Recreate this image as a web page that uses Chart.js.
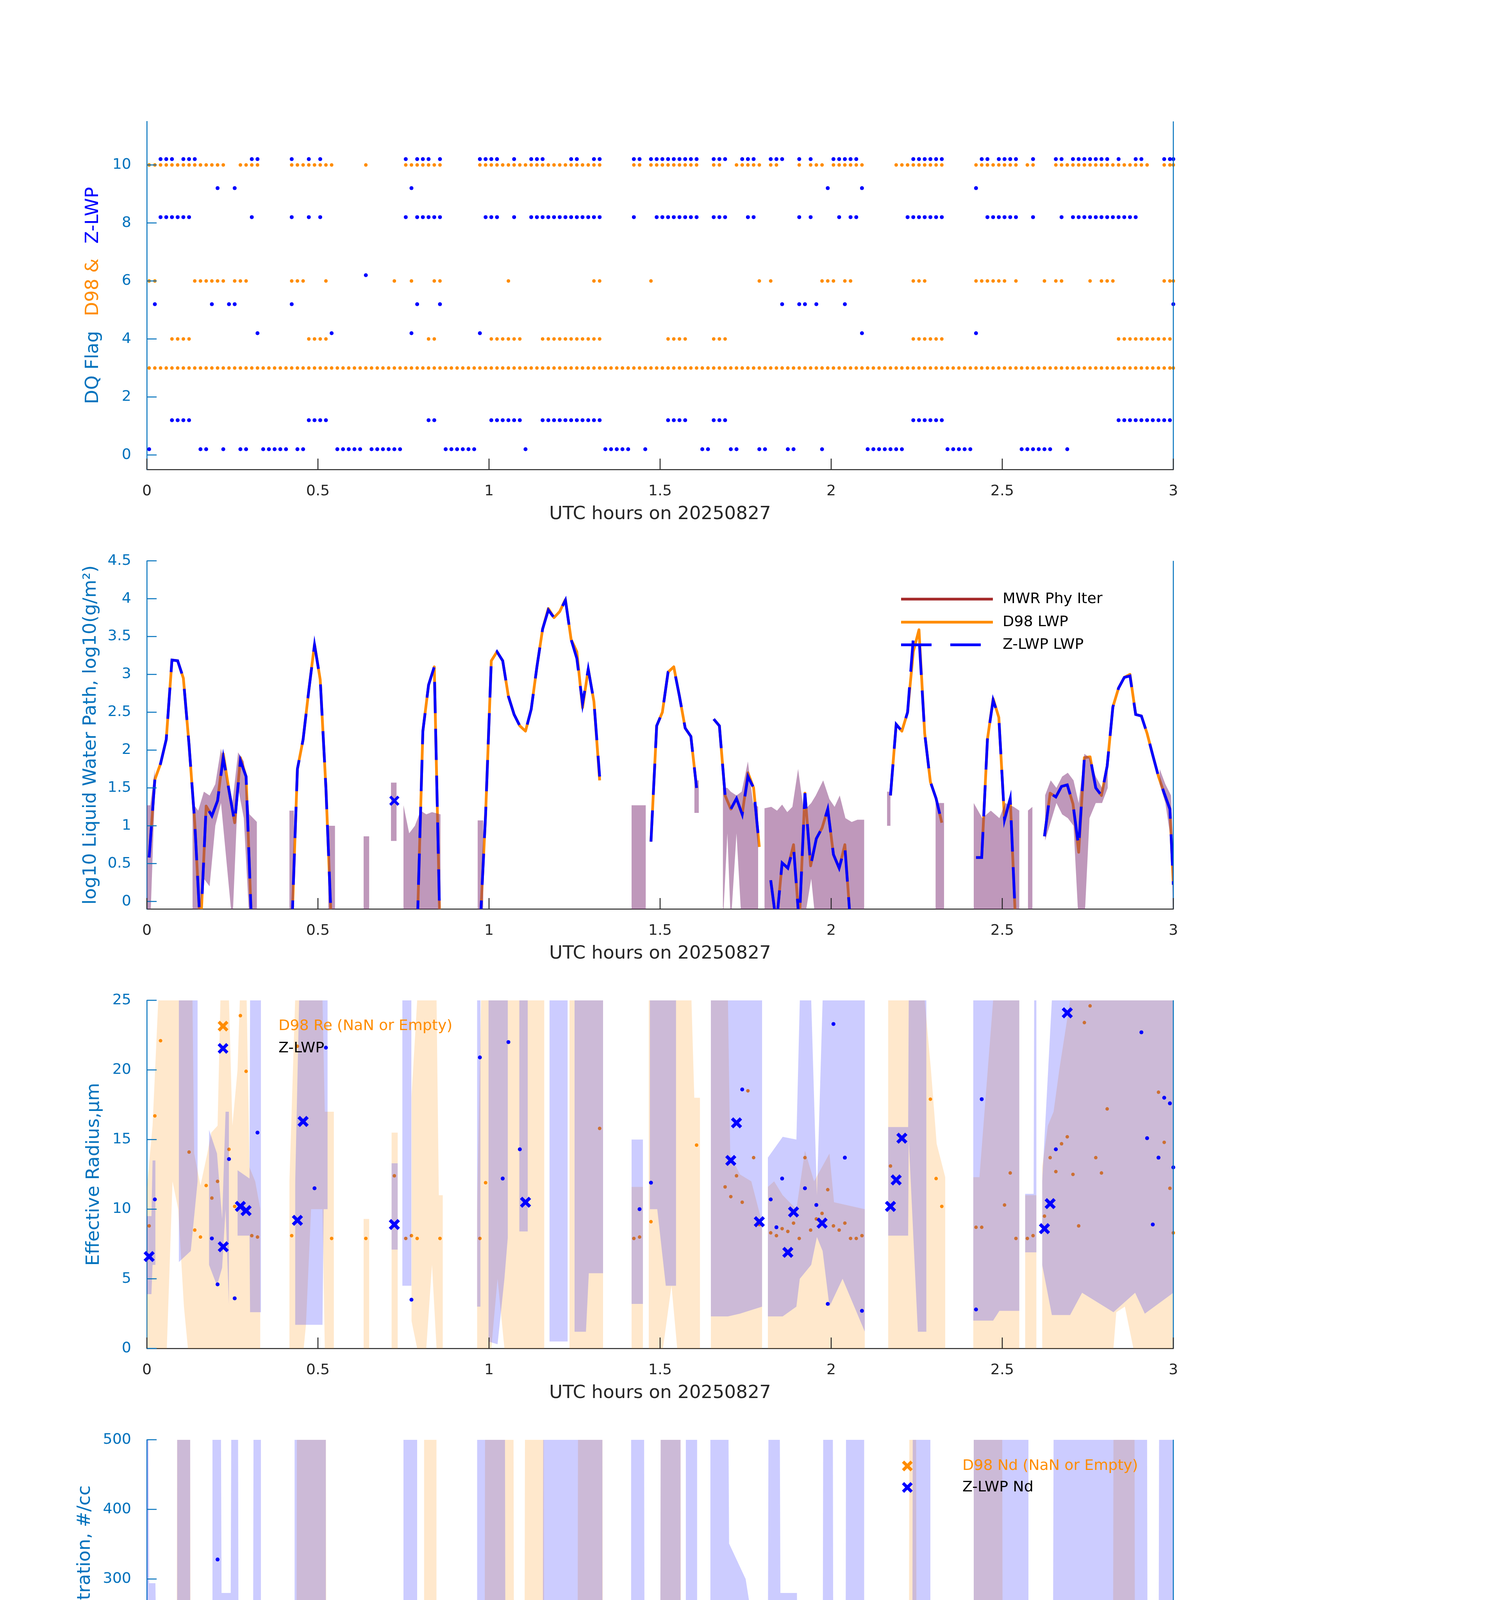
<!DOCTYPE html>
<html>
<head>
<meta charset="utf-8">
<script src="https://cdn.jsdelivr.net/npm/chart.js@4.4.1/dist/chart.umd.min.js"></script>
<style>
  html, body { margin: 0; padding: 0; background: #fff; }
  #fig { position: relative; width: 3825px; height: 6000px; background: #fff; }
  canvas { position: absolute; left: 0; }
</style>
</head>
<body>
<div id="fig">
  <canvas id="c1" width="3825" height="1116" style="top:256px"></canvas>
  <canvas id="c2" width="3825" height="1116" style="top:1381px"></canvas>
  <canvas id="c3" width="3825" height="1116" style="top:2506px"></canvas>
  <canvas id="c4" width="3825" height="1116" style="top:3631px"></canvas>
  <canvas id="c5" width="3825" height="1116" style="top:4756px"></canvas>
</div>
<script>
// samples are taken 0.4 min after each whole minute
const T_OFF = 0.4;
const X_TICKS = [0, 0.5, 1, 1.5, 2, 2.5, 3];
const X_TITLE = 'UTC hours on 20250827';

// ---- panel 1: data quality flags (runs of minutes) ----
const d98Flag10 = [[0,13],[16,19],[25,32],38,[45,51],[58,79],[85,86],[88,96],[99,100],[103,107],[109,110],114,[116,118],[120,125],[131,139],[145,152],[154,155],[159,175],[178,180]];
const d98Flag6 = [[0,1],[8,13],[15,17],[25,27],31,43,46,[50,51],63,[78,79],88,107,109,[118,120],[122,123],[134,136],[145,150],152,157,[159,160],165,[167,169],[178,180]];
const d98Flag4 = [[4,7],[28,31],[49,50],[60,65],[69,79],[91,94],[99,101],[134,139],[170,179]];
const d98Flag3 = [[0,180]];
const zlwpFlag10 = [[2,4],[6,8],[18,19],25,28,30,45,[47,49],51,[58,61],64,[67,69],[74,75],[78,79],[85,86],[88,96],[99,101],[104,106],[109,111],114,116,[120,124],[134,139],[146,147],[149,152],155,[159,160],[162,168],170,[173,174],[178,180]];
const zlwpFlag9 = [12,15,46,119,125,145];
const zlwpFlag8 = [[2,7],18,25,28,30,45,[47,51],[59,61],64,[67,79],85,[89,96],[99,101],[105,106],114,116,121,[123,124],[133,139],[147,152],155,160,[162,173]];
const zlwpFlag6 = [38];
const zlwpFlag5 = [1,11,14,15,25,47,51,111,114,115,117,122,180];
const zlwpFlag4 = [19,32,46,58,125,145];
const zlwpFlag1 = [[4,7],[28,31],[49,50],[60,65],[69,79],[91,94],[99,101],[134,139],[170,179]];
const zlwpFlag0 = [0,9,10,13,16,17,[20,24],26,27,[33,37],[39,44],[52,57],66,[80,84],87,97,98,102,103,107,108,112,113,118,[126,132],[140,144],[153,158],161];
const ZLWP_FLAG_SHIFT = 0.2;

// ---- panel 2: log10 LWP, one value per minute (index = minute) ----
const zlwpLwp = [
  0.58, 1.61, 1.82, 2.14, 3.19, 3.18, 2.95, 2.07, 1.04, -0.4,
  1.26, 1.13, 1.33, 1.90, 1.47, 1.04, 1.86, 1.65, -0.4, null,
  null, null, null, null, null, -0.4, 1.75, 2.14, 2.79, 3.39,
  2.93, 1.50, -0.4, null, null, null, null, null, null, null,
  null, null, null, 1.33, null, null, null, -0.4, 2.25, 2.86,
  3.10, -0.4, null, null, null, null, null, null, -0.4, 1.15,
  3.18, 3.30, 3.18, 2.71, 2.47, 2.32, 2.25, 2.54, 3.10, 3.60,
  3.85, 3.75, 3.83, 3.98, 3.46, 3.21, 2.61, 3.07, 2.64, 1.65,
  null, null, null, null, null, null, null, null, 0.79, 2.32,
  2.50, 3.03, 3.09, 2.71, 2.29, 2.18, 1.50, null, null, 2.41,
  2.32, 1.40, 1.22, 1.36, 1.15, 1.65, 1.50, 0.72, null, 0.28,
  -0.3, 0.51, 0.44, 0.72, -0.3, 1.43, 0.47, 0.83, 0.97, 1.22,
  0.62, 0.44, 0.72, -0.3, null, null, null, null, null, null,
  1.40, 2.34, 2.25, 2.50, 3.48, 3.50, 2.22, 1.58, 1.36, 1.04,
  null, null, null, null, null, 0.58, 0.58, 2.14, 2.66, 2.43,
  1.08, 1.36, -0.4, null, null, null, null, 0.86, 1.43, 1.38,
  1.52, 1.54, 1.29, 0.72, 1.90, 1.91, 1.50, 1.40, 1.79, 2.57,
  2.82, 2.96, 2.98, 2.47, 2.45, 2.22, 1.93, 1.65, 1.43, 1.22,
  0.22
];
const d98Lwp = [
  0.58, 1.61, 1.82, 2.14, 3.19, 3.18, 2.95, 2.07, 1.04, -0.4,
  1.26, 1.13, 1.33, 1.95, 1.47, 1.04, 1.90, 1.65, -0.4, null,
  null, null, null, null, null, -0.4, 1.75, 2.14, 2.79, 3.40,
  2.93, 1.50, -0.4, null, null, null, null, null, null, null,
  null, null, null, null, null, null, null, -0.4, 2.25, 2.86,
  3.10, -0.4, null, null, null, null, null, null, -0.4, 1.15,
  3.18, 3.30, 3.18, 2.71, 2.47, 2.32, 2.25, 2.54, 3.10, 3.60,
  3.87, 3.75, 3.83, 3.99, 3.46, 3.30, 2.56, 3.07, 2.64, 1.60,
  null, null, null, null, null, null, null, null, 0.79, 2.32,
  2.50, 3.03, 3.10, 2.71, 2.29, 2.18, 1.50, null, null, 2.41,
  2.32, 1.40, 1.22, 1.36, 1.15, 1.70, 1.50, 0.72, null, 0.28,
  -0.3, 0.51, 0.44, 0.75, -0.3, 1.43, 0.47, 0.83, 0.97, 1.22,
  0.62, 0.44, 0.75, -0.3, null, null, null, null, null, null,
  1.40, 2.34, 2.25, 2.50, 3.30, 3.59, 2.22, 1.58, 1.36, 1.04,
  null, null, null, null, null, 0.58, 0.58, 2.14, 2.68, 2.43,
  1.08, 1.36, -0.4, null, null, null, null, 0.86, 1.43, 1.38,
  1.52, 1.54, 1.29, 0.65, 1.90, 1.91, 1.50, 1.40, 1.79, 2.57,
  2.82, 2.96, 3.00, 2.47, 2.45, 2.22, 1.93, 1.65, 1.43, 1.22,
  0.22
];
const mwrLwp = [];
// uncertainty envelope: segments of [minute, low, high]
const lwpBand = [
  [[0,-0.3,1.27],[0.6,-0.3,1.27],[1.4,1.45,1.75]],
  [[8,-0.3,1.3],[9,-0.3,1.2],[10,0.3,1.45],[11,0.2,1.4],[12,1.0,1.55],[13,1.3,2.02],[14,0.5,1.6],[15,-0.3,1.3],[16,1.5,1.97],[17,1.1,1.85],[18,-0.3,1.15],[19.3,-0.3,1.05]],
  [[25,-0.3,1.2],[25.8,-0.3,1.2]],
  [[31.8,-0.3,1.0],[33,-0.3,1.0]],
  [[38,-0.3,0.86],[39,-0.3,0.86]],
  [[42.8,0.8,1.57],[43.8,0.8,1.57]],
  [[45,-0.3,1.27],[46,-0.3,0.9],[47,-0.3,1.0],[48,-0.3,1.2],[49,-0.3,1.15],[50,-0.3,1.18],[51.5,-0.3,1.15]],
  [[58,-0.3,1.07],[59,-0.3,1.07]],
  [[85,-0.3,1.27],[87.5,-0.3,1.27]],
  [[96,1.17,1.6],[96.8,1.17,1.6]],
  [[101,-0.3,1.5],[101.8,0.9,1.5],[102.4,-0.3,1.45],[103.4,0.9,1.4],[104.3,-0.3,1.45],[105.4,-0.3,1.85],[106.3,-0.3,1.3],[107.2,-0.3,1.25]],
  [[108.3,-0.3,1.23],[109.5,-0.3,1.25],[110.5,-0.3,1.2],[111.4,-0.3,1.28],[112.3,-0.3,1.18],[113.2,-0.3,1.25],[114.2,-0.3,1.75],[115.2,-0.3,1.2],[116.5,0.3,1.3],[117.3,-0.3,1.4],[118.6,-0.3,1.6],[119.7,-0.3,1.35],[120.6,-0.3,1.25],[121.5,-0.3,1.4],[122.5,-0.3,1.1],[123.6,-0.3,1.05],[124.6,-0.3,1.08],[125.8,-0.3,1.08]],
  [[129.8,1.0,1.45],[130.4,1.0,1.45]],
  [[138.3,-0.3,1.3],[139.8,-0.3,1.3]],
  [[145,-0.3,1.3],[146.5,-0.3,1.1],[148,-0.3,1.2],[149.5,-0.3,1.1],[150.5,-0.3,1.3],[152,-0.3,1.25],[153,-0.3,1.2]],
  [[154.5,-0.3,1.2],[155.3,-0.3,1.25]],
  [[157.5,0.8,1.4],[158.5,1.05,1.6],[159.5,1.3,1.5],[160.5,1.15,1.65],[161.5,1.1,1.7],[162.5,1.0,1.6],[163.4,-0.3,1.3],[164.4,-0.3,1.95],[165.3,1.1,1.9],[166.4,1.3,1.65],[167.5,1.3,1.5],[168.5,1.5,1.85]],
  [[177.6,1.55,1.75],[178.6,1.3,1.55],[179.6,0.8,1.4],[180,-0.3,0.6]]
];

// ---- panel 3: effective radius (um), points [minute, value] ----
const d98Re = [[0.4,8.8],[1.4,16.7],[2.4,22.1],[7.4,14.1],[8.4,8.5],[9.4,8.0],[10.4,11.7],[11.4,10.8],[12.4,12.0],[14.4,14.3],[15.4,10.2],[16.4,23.9],[17.4,19.9],[18.4,8.1],[19.4,8.0],[25.4,8.1],[26.4,21.7],[32.4,7.9],[38.4,7.9],[43.4,12.4],[45.4,7.9],[46.4,8.1],[47.4,7.9],[51.4,7.9],[58.4,7.9],[59.4,11.9],[79.4,15.8],[85.4,7.9],[86.4,8.0],[88.4,9.1],[96.4,14.6],[101.4,11.6],[102.4,10.9],[103.4,12.4],[104.4,10.5],[105.4,18.5],[106.4,13.7],[107.4,8.9],[109.4,8.3],[110.4,8.1],[111.4,8.6],[112.4,8.4],[113.4,9.0],[114.4,7.9],[115.4,13.7],[116.4,8.5],[117.4,9.3],[118.4,9.7],[119.4,11.4],[120.4,8.8],[121.4,8.5],[122.4,9.0],[123.4,7.9],[124.4,7.9],[125.4,8.1],[130.4,13.1],[137.4,17.9],[138.4,12.2],[139.4,10.2],[145.4,8.7],[146.4,8.7],[150.4,10.3],[151.4,12.6],[152.4,7.9],[154.4,7.9],[155.4,8.1],[157.4,9.5],[158.4,13.7],[159.4,12.7],[160.4,14.7],[161.4,15.2],[162.4,12.5],[163.4,8.8],[164.4,23.4],[165.4,24.6],[166.4,13.7],[167.4,12.6],[168.4,17.2],[177.4,18.4],[178.4,14.8],[179.4,11.5],[180,8.3]];
const zlwpRe = [[1.4,10.7],[11.4,7.9],[12.4,4.6],[14.4,13.6],[15.4,3.6],[19.4,15.5],[29.4,11.5],[31.4,21.6],[46.4,3.5],[58.4,20.9],[62.4,12.2],[63.4,22.0],[65.4,14.3],[86.4,10.0],[88.4,11.9],[104.4,18.6],[109.4,10.7],[110.4,8.7],[111.4,12.2],[115.4,11.5],[117.4,10.3],[119.4,3.2],[120.4,23.3],[122.4,13.7],[125.4,2.7],[145.4,2.8],[146.4,17.9],[159.4,14.3],[174.4,22.7],[175.4,15.1],[176.4,8.9],[177.4,13.7],[178.4,18.0],[179.4,17.6],[180,13.0]];
const zlwpReOnly = [[0.4,6.6],[13.4,7.3],[16.4,10.2],[17.4,9.9],[26.4,9.2],[27.4,16.3],[43.4,8.9],[66.4,10.5],[102.4,13.5],[103.4,16.2],[107.4,9.1],[112.4,6.9],[113.4,9.8],[118.4,9.0],[130.4,10.2],[131.4,12.1],[132.4,15.1],[157.4,8.6],[158.4,10.4],[161.4,24.1]];
const d98ReBand = [
  [[0,0,11.5],[1,0,16],[2,0,25],[3.5,0,25],[4.5,12,25],[5.5,10,25],[6.5,3,25],[7.2,0,25],[8,0,25],[8.3,0,14],[9.4,0,11.7],[10.6,0,14],[11.3,0,15.5],[12.4,0,16],[12.9,0,25],[14.4,0,25],[15,0,16],[15.9,0,20],[16.3,0,25],[17.5,0,25],[18,0,13],[19,0,12],[19.9,0,10]],
  [[25,0,12],[26,0,25],[27.5,0,25],[27.9,1.7,25],[28.8,10,25],[30.8,10,25],[31.2,0,17],[32.8,0,17]],
  [[38,0,9.3],[39,0,9.3]],
  [[42.9,0,15.5],[44,0,15.5]],
  [[46.4,2,18],[47.4,0,25],[49,0,25],[50,6,25],[50.8,0,25],[51.2,0,11],[51.9,0,11]],
  [[57.9,0,10],[58.6,0,25],[60.4,0,25],[61.5,5,25],[62.7,0,25],[69.7,0,25]],
  [[74.1,0,25],[80,0,25]],
  [[85,0,11.6],[87,0,11.6]],
  [[88,0,25],[90.5,0,25],[92,4.5,25],[93,0,25],[95.5,0,25],[96,0,18],[97,0,18]],
  [[98.9,0,25],[101.9,0,25],[102.3,0,13.9],[104,0,12.5],[106,0,12],[107.9,0,9]],
  [[108.9,0,11.6],[110,0,12],[111.5,0,11],[113.9,0,10],[115.4,0,14.2],[117,0,12],[119.7,0,14],[120.5,0,10.5],[125.9,0,10]],
  [[130,0,25],[136.4,0,25],[137.5,0,20],[138.5,0,14.7],[140,0,12.3]],
  [[144.9,0,12.3],[146,0,12.3],[148.4,0,25],[153,0,25]],
  [[154,0,11],[156,0,11]],
  [[157,0,13],[158,0,16],[159,0,17],[160,0,20],[161.9,0,25],[169.5,0,25],[170,2.6,25],[171.5,3,25],[173,0,25],[180,0,25]]
];
const zlwpReBand = [
  [[0,3.9,9.5],[0.8,3.9,9.5],[1.0,6,13.5],[1.5,6,13.5]],
  [[5.6,6.2,25],[7.7,7,25],[8.9,12,25]],
  [[10.9,6,15.7],[12.3,4.5,14],[13.2,5.8,9.3],[13.8,10,17],[14.4,3,17]],
  [[15.9,8.1,12.8],[18,8.1,12.2],[18.1,2.6,25],[20,2.6,25]],
  [[26,1.7,11.7],[26.7,1.7,25],[30.8,1.7,25],[31,10,25],[31.7,10,25]],
  [[42.9,7.1,13.3],[44,7.1,13.3]],
  [[44.8,4.5,25],[46.4,4.5,25]],
  [[57.9,3,25],[58.5,3,25]],
  [[59.9,0.5,25],[61.5,0.3,25],[62.7,5,25],[63.3,8,25]],
  [[65.3,8.4,25],[66.8,8.4,25]],
  [[70.6,0.5,25],[73.8,0.5,25]],
  [[75,1.2,25],[77,1.2,25],[77.5,5.4,25],[80,5.4,25]],
  [[85,3.2,15],[87,3.2,15]],
  [[88.2,10,25],[89.5,10,25],[91,4.5,25],[92.8,4.5,25]],
  [[98.9,2.3,25],[101.9,2.3,25],[104,2.5,25],[107.9,3,25]],
  [[108.9,2.3,13.7],[111.5,2.3,15.2],[113.9,3,15],[114.5,5,25],[116.5,6,25],[117.5,8,11],[118.5,7,25],[119.7,3,25],[122,5,25],[125.9,1.2,25]],
  [[130,8.1,15.9],[133.5,8.1,15.9],[133.6,15,25],[135.2,1.2,25],[136.7,1.2,25]],
  [[144.9,2,25],[148.4,2,25],[149.5,2.7,25],[153,2.7,25]],
  [[154,6.9,11.1],[155.5,6.9,11.1],[155.6,6.9,25],[156,6.9,25]],
  [[157,6,12],[158.7,2.4,25],[161.9,2.4,25],[164,4,25],[169.5,2.6,25],[173.3,4,25],[175,2.5,25],[180,4,25]]
];

// ---- panel 4: droplet concentration (#/cc) ----
const d98Nd = [[1.4,3],[2.4,1],[3.4,2],[4.4,2],[5.4,2],[6.4,1],[7.4,1],[8.4,1],[9.4,1],[10.4,3],[11.4,4],[12.4,5],[13.4,2],[14.4,7],[15.4,4],[16.4,3],[17.4,3],[26.4,2],[27.4,2],[28.4,1],[29.4,1],[30.4,2],[31.4,2],[32.4,1],[38.4,1],[43.4,6],[48.4,2],[49.4,2],[50.4,1],[59.4,3],[60.4,1],[61.4,1],[62.4,1],[63.4,1],[64.4,2],[65.4,1],[66.4,1],[67.4,1],[68.4,1],[69.4,1],[70.4,1],[71.4,1],[72.4,1],[73.4,1],[74.4,1],[75.4,1],[76.4,1],[77.4,1],[78.4,1],[79.4,1],[89.4,5],[90.4,3],[91.4,1],[92.4,1],[93.4,2],[94.4,2],[95.4,3],[96.4,4],[99.4,2],[100.4,4],[101.4,8],[103.4,10],[104.4,10],[105.4,14],[106.4,5],[107.4,6],[109.4,5],[110.4,6],[111.4,8],[112.4,5],[113.4,7],[115.4,10],[117.4,5],[118.4,6],[119.4,8],[120.4,3],[121.4,3],[130.4,10],[131.4,5],[132.4,2],[133.4,1],[134.4,1],[135.4,1],[136.4,2],[137.4,2],[138.4,3],[139.4,4],[145.4,2],[147.4,2],[148.4,1],[149.4,3],[150.4,4],[151.4,3],[154.4,0],[157.4,8],[158.4,12],[159.4,6],[160.4,4],[161.4,5],[162.4,6],[164.4,3],[165.4,4],[166.4,2],[167.4,5],[168.4,3],[169.4,2],[170.4,1],[171.4,1],[172.4,2],[173.4,2],[174.4,3],[175.4,5],[176.4,11],[177.4,9],[178.4,6],[179.4,4]];
const zlwpNd = [[1.4,20],[2.4,1],[3.4,1],[4.4,1],[5.4,107],[6.4,1],[7.4,1],[8.4,1],[11.4,13],[12.4,328],[14.4,10],[15.4,237],[18.4,1],[19.4,1],[25.4,1],[28.4,3],[29.4,1],[30.4,1],[31.4,7],[45.4,1],[46.4,90],[47.4,1],[48.4,1],[49.4,3],[50.4,12],[51.4,1],[58.4,1],[59.4,1],[60.4,1],[61.4,1],[62.4,1],[63.4,22],[64.4,1],[65.4,24],[67.4,1],[68.4,1],[69.4,1],[70.4,208],[71.4,8],[72.4,21],[73.4,23],[74.4,1],[75.4,1],[76.4,7],[77.4,9],[78.4,1],[79.4,1],[85.4,1],[86.4,1],[88.4,1],[89.4,1],[90.4,1],[91.4,1],[92.4,1],[93.4,1],[94.4,1],[95.4,1],[96.4,1],[99.4,1],[100.4,1],[101.4,1],[104.4,1],[105.4,1],[106.4,1],[108.4,1],[109.4,1],[110.4,1],[111.4,1],[114.4,1],[115.4,17],[116.4,1],[117.4,10],[119.4,1],[120.4,1],[121.4,1],[122.4,1],[123.4,1],[124.4,1],[125.4,229],[133.4,5],[134.4,1],[135.4,1],[136.4,1],[137.4,1],[138.4,1],[139.4,1],[145.4,1],[146.4,1],[147.4,1],[148.4,11],[149.4,1],[150.4,1],[151.4,1],[152.4,1],[154.4,1],[155.4,1],[159.4,1],[160.4,1],[162.4,1],[163.4,1],[164.4,1],[165.4,1],[166.4,1],[167.4,1],[168.4,1],[169.4,7],[170.4,1],[171.4,15],[172.4,1],[173.4,1],[174.4,12],[175.4,30],[176.4,221],[177.4,25],[178.4,5],[179.4,1],[180,1]];
const zlwpNdOnly = [[0.4,31],[13.4,140],[16.4,36],[17.4,23],[26.4,21],[27.4,52],[43.4,28],[66.4,35],[102.4,7],[103.4,8],[107.4,7],[112.4,8],[113.4,8],[118.4,15],[130.4,19],[131.4,57],[132.4,40],[157.4,20],[158.4,37],[161.4,9]];
const d98NdBand = [
  [[0,0,15],[2,0,5],[3.5,0,40],[5.2,0,45],[5.3,0,500],[7.6,0,500],[7.7,0,15],[12,0,15],[15,0,20],[18,0,10],[20,0,5]],
  [[25,0,10],[26.2,0,10],[26.3,0,500],[31.4,0,500],[31.5,0,20],[32.3,0,20]],
  [[37.8,0,20],[38.8,0,20]],
  [[42.8,0,10],[44,0,10]],
  [[48.6,0,500],[50.8,0,500]],
  [[57.9,0,25],[59.2,0,25],[59.3,0,500],[64.3,0,500],[64.4,0,60],[66.2,0,60],[66.3,0,500],[69.6,0,500],[69.7,0,15],[75.5,0,15],[75.6,0,500],[79.9,0,500],[80,0,10],[80.4,0,10]],
  [[84.9,0,15],[90,0,15],[90.1,0,500],[93.6,0,500],[93.7,0,10],[96.5,0,10]],
  [[98.8,0,10],[102,0,25],[105,0,20],[108,0,10],[110,0,15],[112,0,25],[114,0,15],[117,0,30],[120,0,20],[122,0,30],[125.8,0,15]],
  [[130.4,0,15],[132,0,20],[133.6,0,20],[133.7,0,500],[134.9,0,500],[135,0,15],[137.4,0,10]],
  [[145,0,500],[150,0,500],[150.1,0,10],[153,0,10]],
  [[155,0,10],[157,0,45],[158.5,0,20],[160,0,10],[164,0,10],[169.4,0,10],[169.5,0,500],[173.2,0,500],[173.3,0,10],[177,0,20],[178.5,0,10],[180,0,10]]
];
const zlwpNdBand = [
  [[0,0,500],[0.3,0,500],[0.4,0,294],[1.5,0,294],[2,0,5]],
  [[5.3,0,500],[7.6,0,500]],
  [[11.5,0,500],[13,0,500],[13.1,0,280],[14.7,0,280],[14.8,0,500],[16,0,500],[16.1,0,73],[17,0,111],[18.6,0,73],[18.7,0,500],[20,0,500]],
  [[25.9,0,500],[31.4,0,500]],
  [[43,0,81],[44,0,81]],
  [[45,0,500],[47.4,0,500]],
  [[57.9,0,500],[62.8,0,500],[62.9,0,75],[66.2,0,40],[69.4,0,60],[69.5,0,500],[79.9,0,500]],
  [[84.9,0,500],[87.2,0,500],[87.3,0,51],[90,0,51],[90.1,0,500],[93.6,0,500]],
  [[94.5,0,500],[96.5,0,500]],
  [[98.8,0,500],[102,0,500],[102.1,0,351],[105,0,300],[107,0,196],[108.9,0,196],[109,0,500],[111,0,500],[111.1,0,280],[114,0,280],[114.1,0,81],[117.4,0,75],[118.5,0,75],[118.6,0,500],[120.3,0,500],[120.4,0,20],[122.5,0,20],[122.6,0,500],[125.8,0,500]],
  [[130.8,0,20],[131.5,0,111],[133,0,60],[134.2,0,30],[134.3,0,500],[137.4,0,500]],
  [[145,0,500],[154.6,0,500]],
  [[157,0,206],[158.9,0,206],[159,0,500],[175.4,0,500],[175.5,0,84],[177.4,0,84],[177.5,0,500],[180,0,500]]
];

// ---- panel 5: optical depth ----
const d98Od = [[1.4,3.9],[2.4,4.7],[3.4,5.9],[4.4,7.0],[5.4,7.3],[6.4,6.8],[7.4,5.3],[8.4,1.5],[9.4,0.1],[10.4,2.6],[11.4,2.2],[12.4,2.7],[13.4,5.3],[14.4,3.6],[15.4,1.9],[16.4,4.9],[17.4,4.4],[26.4,4.7],[27.4,6.1],[28.4,7.0],[29.4,7.2],[30.4,7.2],[31.4,5.2],[32.4,0.2],[38.4,0.2],[43.4,2.9],[48.4,5.9],[49.4,7.0],[50.4,7.2],[59.4,2.7],[60.4,7.2],[61.4,7.2],[62.4,7.2],[63.4,7.0],[64.4,6.6],[65.4,6.2],[66.4,5.9],[67.4,6.8],[68.4,7.1],[69.4,7.3],[70.4,7.3],[71.4,7.3],[72.4,7.3],[73.4,7.3],[74.4,7.3],[75.4,7.0],[76.4,6.6],[77.4,7.0],[78.4,6.8],[79.4,3.7],[89.4,6.3],[90.4,6.4],[91.4,7.3],[92.4,7.3],[93.4,6.4],[94.4,5.5],[95.4,5.1],[96.4,3.6],[99.4,6.5],[100.4,6.4],[101.4,2.6],[103.4,2.0],[104.4,2.2],[105.4,4.4],[106.4,3.4],[107.4,0.5],[109.4,0.5],[110.4,0.3],[111.4,0.5],[112.4,1.0],[113.4,0.8],[115.4,2.6],[117.4,1.5],[118.4,1.7],[119.4,2.6],[120.4,0.7],[121.4,0.7],[130.4,2.7],[131.4,6.5],[132.4,6.5],[133.4,6.8],[134.4,7.3],[135.4,7.3],[136.4,6.4],[137.4,5.1],[138.4,2.7],[139.4,1.0],[145.4,1.4],[147.4,5.7],[148.4,7.0],[149.4,6.2],[150.4,3.7],[151.4,1.0],[154.4,0.2],[157.4,2.2],[158.4,3.6],[159.4,2.7],[160.4,3.5],[161.4,2.4],[162.4,1.0],[164.4,4.9],[165.4,5.0],[166.4,3.4],[167.4,2.9],[168.4,4.4],[169.4,6.8],[170.4,7.3],[171.4,7.3],[172.4,7.0],[173.4,6.8],[174.4,6.3],[175.4,6.1],[176.4,5.3],[177.4,4.2],[178.4,2.9],[179.4,2.0]];
const zlwpOd = [[1.4,6.3],[4.4,24.7],[5.4,72.1],[6.4,5.4],[7.4,1.2],[8.4,0.3],[11.4,2.9],[12.4,6.6],[14.4,3.7],[15.4,4.9],[18.4,0.3],[19.4,0.3],[28.4,24.7],[30.4,15.9],[31.4,6.4],[45.4,0.7],[46.4,0.2],[48.4,2.7],[49.4,21.4],[50.4,41.9],[51.4,0.2],[58.4,0.3],[60.4,18],[61.4,34.5],[63.4,41.9],[64.4,18],[65.4,23.6],[67.4,19.5],[68.4,18],[69.4,32.8],[74.4,67.6],[75.4,39.5],[76.4,19.6],[77.4,42.8],[78.4,14.3],[79.4,0.7],[85.4,0.2],[86.4,0.2],[88.4,0.9],[89.4,8.8],[90.4,5.5],[91.4,10],[92.4,16.2],[93.4,4.9],[94.4,2.2],[95.4,2.4],[96.4,0.5],[99.4,5.5],[100.4,8.9],[101.4,0.7],[105.4,3.0],[109.4,0.5],[110.4,0.5],[114.4,0.5],[115.4,4.1],[116.4,0.5],[117.4,1.3],[119.4,8.3],[120.4,0.7],[121.4,0.5],[123.4,0.5],[124.4,0.7],[125.4,1.0],[134.4,47.9],[135.4,84.1],[136.4,4.6],[137.4,1.4],[138.4,1.0],[139.4,0.5],[145.4,2.0],[146.4,0.5],[147.4,6.6],[148.4,18.7],[149.4,7.9],[150.4,0.8],[151.4,0.8],[152.4,0.5],[154.4,0.7],[159.4,2.7],[160.4,0.8],[162.4,1.2],[163.4,0.5],[164.4,3.7],[165.4,2.4],[166.4,0.8],[167.4,1.5],[168.4,1.8],[169.4,21.4],[170.4,7],[171.4,32.6],[172.4,22.6],[173.4,10.8],[174.4,19.7],[175.4,16.6],[176.4,15.9],[178.4,3],[179.4,1.5],[180,0.7]];
const zlwpOdOnly = [[0.4,1.1],[13.4,18.8],[16.4,11.5],[17.4,8.8],[26.4,11.1],[27.4,17],[43.4,3.6],[66.4,25.3],[102.4,2],[103.4,2.4],[107.4,1.0],[112.4,0.9],[113.4,1.0],[118.4,1.7],[130.4,3.7],[131.4,27.5],[132.4,18.8],[157.4,1.7],[158.4,4.2],[161.4,2.5]];
const d98OdBand = [
  [[0,0,7],[1.2,0,7],[2.5,0,8],[3.5,0,10],[3.6,0,100],[7.3,0,100],[7.4,0,4],[10.5,0,3],[12,0,4],[14,0,6],[17.5,0,6],[19.8,0,5]],
  [[25,0,5],[27.3,0,8],[27.4,0,100],[31.4,0,100],[31.5,0,5],[32.5,0,5]],
  [[37.8,0,5],[39,0,5]],
  [[42.8,0,4],[44.2,0,4]],
  [[48.6,0,100],[51,0,100]],
  [[57.9,0,3],[59.2,0,3],[59.3,0,100],[64.2,0,100],[64.3,0,15],[66.2,0,15],[66.3,0,100],[79.3,0,100],[79.4,0,5],[79.8,0,5]],
  [[84.9,0,3],[87.2,0,5],[90.4,0,7],[90.5,0,100],[93.3,0,100],[93.4,0,7],[96.3,0,4]],
  [[98.8,0,7],[101,0,6],[103,0,4],[105.5,0,6],[107,0,3],[109.3,0,3],[112,0,2],[115,0,3],[118,0,3],[121,0,2],[125.6,0,2]],
  [[130,0,4],[133.4,0,7],[133.5,0,100],[136.6,0,100],[136.7,0,6],[140,0,2]],
  [[145,0,3],[146.9,0,5],[147,0,100],[149.4,0,100],[149.5,0,5],[152.8,0,2]],
  [[157,0,4],[160,0,4],[164,0,6],[169.4,0,6],[169.5,0,100],[173.6,0,100],[173.7,0,8],[177,0,6],[180,0,3]]
];
const zlwpOdBand = [
  [[0,0,7],[1.5,0,7],[3,0,5],[5.2,0,5],[5.3,0,100],[7.3,0,100],[7.6,0,3]],
  [[10.5,0,2],[12.5,0,13],[13,0,23.6],[14,0,15],[15,0,15],[16.4,0,7],[19.8,0,6.4]],
  [[25,0,58],[27.4,0,58],[27.5,0,100],[31.4,0,100],[32,0,8]],
  [[42.8,0,8],[44.2,0,8]],
  [[44.8,0,6.4],[47.5,0,6.4]],
  [[49.8,6,51],[51,6,51]],
  [[57.9,0,6.8],[59.2,0,6.8],[59.3,0,100],[63.4,0,100]],
  [[63.5,15,32],[67.5,15,32]],
  [[74.2,0,100],[79.3,0,100]],
  [[84.9,0,3],[87.2,0,3],[88,0,11.5],[90.5,0,11.5],[90.6,0,100],[93.3,0,100],[93.4,0,31],[96.3,0,15]],
  [[98.8,0,100],[101.1,0,100],[101.2,0,8],[104,0,15],[105.5,0,33],[106.5,0,10],[108,0,3],[109.3,0,9],[111.6,0,9],[113.8,0,18.6],[116.2,0,10],[118,0,18],[119.7,0,5],[122.1,0,15.5],[125.6,0,15.5]],
  [[130,0,33.8],[133.4,0,20],[133.5,0,100],[136.6,0,100],[136.7,0,8],[140,0,3]],
  [[145,0,21],[147.2,0,21],[147.3,0,100],[147.8,0,100],[147.9,0,30],[149.4,0,15],[152.8,0,8.8]],
  [[157,0,22.6],[160.5,0,22.6],[160.6,0,13],[164,0,13],[164.2,0,43.6],[166.4,0,43.6],[166.5,0,33],[169.4,0,33],[169.5,0,100],[176.8,0,100],[176.9,0,13],[180,0,3]]
];

// ---- styling ----
const AX_BLUE = '#0072BD';
const AX_DARK = '#262626';
const ORANGE = '#FF8C00';
const BLUE = '#0000FF';
const ORANGE_FILL = 'rgba(255,140,0,0.2)';
const BLUE_FILL = 'rgba(0,0,255,0.2)';
const PURPLE_FILL = 'rgba(128,50,120,0.5)';
const FONT = '"DejaVu Sans", sans-serif';
const PLOT_LEFT = 376, PLOT_RIGHT = 3004, PAD_TOP = 40, X_AXIS_H = 170;

Chart.defaults.font.family = FONT;

const toH = m => Math.min(m, 180) / 60;

function runsToPoints(runs, level) {
  const pts = [];
  runs.forEach(r => {
    const [a, b] = Array.isArray(r) ? r : [r, r];
    for (let m = a; m <= b; m++) pts.push({x: toH(m + T_OFF), y: level});
  });
  return pts;
}

function bandSets(segments, color, order) {
  const out = [];
  segments.forEach(seg => {
    out.push({data: seg.map(r => ({x: toH(r[0]), y: r[1]})), borderWidth: 0, pointRadius: 0, fill: false, order: order});
    out.push({data: seg.map(r => ({x: toH(r[0]), y: r[2]})), borderWidth: 0, pointRadius: 0, fill: '-1', backgroundColor: color, order: order});
  });
  return out;
}

function pointSet(pairs, color, style, radius, bw, order) {
  return {
    data: pairs.map(p => ({x: toH(p[0]), y: p[1]})),
    showLine: false, pointStyle: style, pointRadius: radius,
    pointBackgroundColor: color, pointBorderColor: color, pointBorderWidth: bw,
    clip: false, order: order
  };
}

// legends and the coloured flag title, keyed by canvas id
const legends = {
  c2: {markX0: 1931, markX1: 2166, textX: 2191, rows: [98, 157, 215], items: [
    {kind: 'line', color: '#A52A2A', text: 'MWR Phy Iter', textColor: '#000'},
    {kind: 'line', color: ORANGE, text: 'D98 LWP', textColor: '#000'},
    {kind: 'line', color: BLUE, dash: [78, 48], text: 'Z-LWP LWP', textColor: '#000'}]},
  c3: {markX: 195, textX: 337, rows: [66, 123], items: [
    {kind: 'x', color: ORANGE, text: 'D98 Re (NaN or Empty)', textColor: ORANGE},
    {kind: 'x', color: BLUE, text: 'Z-LWP', textColor: '#000'}]},
  c4: {markX: 1947, textX: 2088, rows: [67, 122], items: [
    {kind: 'x', color: ORANGE, text: 'D98 Nd (NaN or Empty)', textColor: ORANGE},
    {kind: 'x', color: BLUE, text: 'Z-LWP Nd', textColor: '#000'}]},
  c5: {markX: 405, textX: 547, rows: [247, 302], items: [
    {kind: 'x', color: ORANGE, text: 'D98 OD (NaN or Empty)', textColor: ORANGE},
    {kind: 'x', color: BLUE, text: 'Z-LWP Nd', textColor: '#000'}]}
};

const axisDecor = {
  id: 'axisDecor',
  afterDraw(chart) {
    const {ctx, chartArea: a, scales: {x, y}} = chart;
    ctx.save();
    ctx.lineWidth = 2.5;
    ctx.strokeStyle = AX_BLUE;
    ctx.beginPath();
    y.ticks.forEach(t => {
      const py = y.getPixelForValue(t.value);
      ctx.moveTo(a.left, py); ctx.lineTo(a.left + 25, py);
    });
    ctx.moveTo(a.right, a.top); ctx.lineTo(a.right, a.bottom);
    ctx.stroke();
    ctx.strokeStyle = AX_DARK;
    ctx.beginPath();
    x.ticks.forEach(t => {
      const px = x.getPixelForValue(t.value);
      ctx.moveTo(px, a.bottom); ctx.lineTo(px, a.bottom - 28);
    });
    ctx.stroke();

    // legend
    const lg = legends[chart.canvas.id];
    if (lg) {
      ctx.font = '38px ' + FONT;
      ctx.textBaseline = 'middle';
      lg.items.forEach((it, i) => {
        const yy = a.top + lg.rows[i];
        ctx.strokeStyle = it.color;
        if (it.kind === 'line') {
          ctx.lineWidth = 7;
          ctx.setLineDash(it.dash || []);
          ctx.beginPath();
          ctx.moveTo(a.left + lg.markX0, yy); ctx.lineTo(a.left + lg.markX1, yy);
          ctx.stroke();
          ctx.setLineDash([]);
        } else {
          const cx = a.left + lg.markX, r = 11;
          ctx.lineWidth = 8;
          ctx.beginPath();
          ctx.moveTo(cx - r, yy - r); ctx.lineTo(cx + r, yy + r);
          ctx.moveTo(cx - r, yy + r); ctx.lineTo(cx + r, yy - r);
          ctx.stroke();
        }
        ctx.fillStyle = it.textColor;
        ctx.fillText(it.text, a.left + lg.textX, yy);
      });
    }

    // multi-coloured y title of the flag panel
    if (chart.canvas.id === 'c1') {
      const parts = [['DQ Flag', AX_BLUE], ['D98 &', ORANGE], ['Z-LWP', BLUE]];
      ctx.font = '47px ' + FONT;
      const gap = 38;
      const widths = parts.map(p => ctx.measureText(p[0]).width);
      const total = widths.reduce((s, w) => s + w, 0) + gap * (parts.length - 1);
      ctx.translate(239, (a.top + a.bottom) / 2);
      ctx.rotate(-Math.PI / 2);
      ctx.textBaseline = 'middle';
      ctx.textAlign = 'left';
      let pos = -total / 2;
      parts.forEach((p, i) => {
        ctx.fillStyle = p[1];
        ctx.fillText(p[0], pos, 0);
        pos += widths[i] + gap;
      });
    }
    ctx.restore();
  }
};
Chart.register(axisDecor);

function makeChart(id, datasets, yMin, yMax, yTicks, yTitle, yTitleX) {
  return new Chart(document.getElementById(id), {
    type: 'line',
    data: {datasets: datasets},
    options: {
      responsive: false, animation: false, devicePixelRatio: 1, events: [],
      layout: {padding: {left: 0, top: PAD_TOP, right: 3825 - PLOT_RIGHT, bottom: 0}},
      plugins: {legend: {display: false}, tooltip: {enabled: false}},
      elements: {line: {tension: 0}},
      scales: {
        x: {
          type: 'linear', min: 0, max: 3,
          afterBuildTicks: s => { s.ticks = X_TICKS.map(v => ({value: v})); },
          afterFit: s => { s.height = X_AXIS_H; },
          grid: {display: false},
          border: {display: true, color: AX_DARK, width: 2.5},
          ticks: {color: AX_DARK, font: {size: 38}, padding: 25, maxRotation: 0, autoSkip: false, callback: v => String(v)},
          title: {display: true, text: X_TITLE, color: AX_DARK, font: {size: 47}, padding: {top: 0, bottom: 27}}
        },
        y: {
          type: 'linear', min: yMin, max: yMax,
          afterBuildTicks: s => { s.ticks = yTicks.map(v => ({value: v})); },
          afterFit: s => { s.width = PLOT_LEFT; },
          grid: {display: false},
          border: {display: true, color: AX_BLUE, width: 2.5},
          ticks: {color: AX_BLUE, font: {size: 38}, padding: 32, autoSkip: false, callback: v => String(v)},
          title: {display: !!yTitle, text: yTitle || '', color: AX_BLUE, font: {size: 47}, padding: {top: yTitleX - 28, bottom: 0}}
        }
      }
    }
  });
}

// panel 1
const d98FlagPts = [].concat(
  runsToPoints(d98Flag10, 10), runsToPoints(d98Flag6, 6),
  runsToPoints(d98Flag4, 4), runsToPoints(d98Flag3, 3));
const zlwpFlagPts = [].concat(
  runsToPoints(zlwpFlag10, 10 + ZLWP_FLAG_SHIFT), runsToPoints(zlwpFlag9, 9 + ZLWP_FLAG_SHIFT),
  runsToPoints(zlwpFlag8, 8 + ZLWP_FLAG_SHIFT), runsToPoints(zlwpFlag6, 6 + ZLWP_FLAG_SHIFT),
  runsToPoints(zlwpFlag5, 5 + ZLWP_FLAG_SHIFT), runsToPoints(zlwpFlag4, 4 + ZLWP_FLAG_SHIFT),
  runsToPoints(zlwpFlag1, 1 + ZLWP_FLAG_SHIFT), runsToPoints(zlwpFlag0, 0 + ZLWP_FLAG_SHIFT));
makeChart('c1', [
  {data: d98FlagPts, showLine: false, pointRadius: 4.5, pointBackgroundColor: ORANGE, pointBorderWidth: 0, clip: false, order: 2},
  {data: zlwpFlagPts, showLine: false, pointRadius: 5, pointBackgroundColor: BLUE, pointBorderWidth: 0, clip: false, order: 1}
], -0.5, 11.5, [0, 2, 4, 6, 8, 10], null, 239);

// panel 2
const isolated = ctx => {
  const d = ctx.dataset.data, i = ctx.dataIndex;
  if (!d[i] || d[i].y == null) return false;
  return (!d[i - 1] || d[i - 1].y == null) && (!d[i + 1] || d[i + 1].y == null);
};
makeChart('c2', [
  {data: d98Lwp.map((v, m) => ({x: toH(m + T_OFF), y: v})), borderColor: ORANGE, borderWidth: 7, pointRadius: 0, spanGaps: false, fill: false, borderJoinStyle: 'round', order: 50},
  {data: mwrLwp, borderColor: '#A52A2A', borderWidth: 7, pointRadius: 0, order: 45}
].concat(bandSets(lwpBand, PURPLE_FILL, 30)).concat([
  {data: zlwpLwp.map((v, m) => ({x: toH(m + T_OFF), y: v})), borderColor: BLUE, borderWidth: 7, borderDash: [80, 40], spanGaps: false, fill: false,
   pointStyle: 'crossRot', pointBorderColor: BLUE, pointBorderWidth: 7, pointRadius: ctx => isolated(ctx) ? 15 : 0, order: 10}
]), -0.1, 4.5, [0, 0.5, 1, 1.5, 2, 2.5, 3, 3.5, 4, 4.5], 'log10 Liquid Water Path, log10(g/m\u00B2)', 233);

// panels 3-5
function retrievalPanel(id, d98Pts, d98Band, zBand, zPts, zOnly, yMax, yTicks, yTitle, yTitleX) {
  const sets = [pointSet(d98Pts, ORANGE, 'circle', 4.5, 0, 50)]
    .concat(bandSets(d98Band, ORANGE_FILL, 40))
    .concat(bandSets(zBand, BLUE_FILL, 30))
    .concat([pointSet(zPts, BLUE, 'circle', 5, 0, 20), pointSet(zOnly, BLUE, 'crossRot', 16, 8.5, 10)]);
  makeChart(id, sets, 0, yMax, yTicks, yTitle, yTitleX);
}
retrievalPanel('c3', d98Re, d98ReBand, zlwpReBand, zlwpRe, zlwpReOnly, 25, [0, 5, 10, 15, 20, 25], 'Effective Radius,\u03BCm', 241);
retrievalPanel('c4', d98Nd, d98NdBand, zlwpNdBand, zlwpNd, zlwpNdOnly, 500, [0, 100, 200, 300, 400, 500], 'Droplet Concentration, #/cc', 218);
retrievalPanel('c5', d98Od, d98OdBand, zlwpOdBand, zlwpOd, zlwpOdOnly, 100, [0, 20, 40, 60, 80, 100], 'Optical Depth', 218);
</script>
</body>
</html>
